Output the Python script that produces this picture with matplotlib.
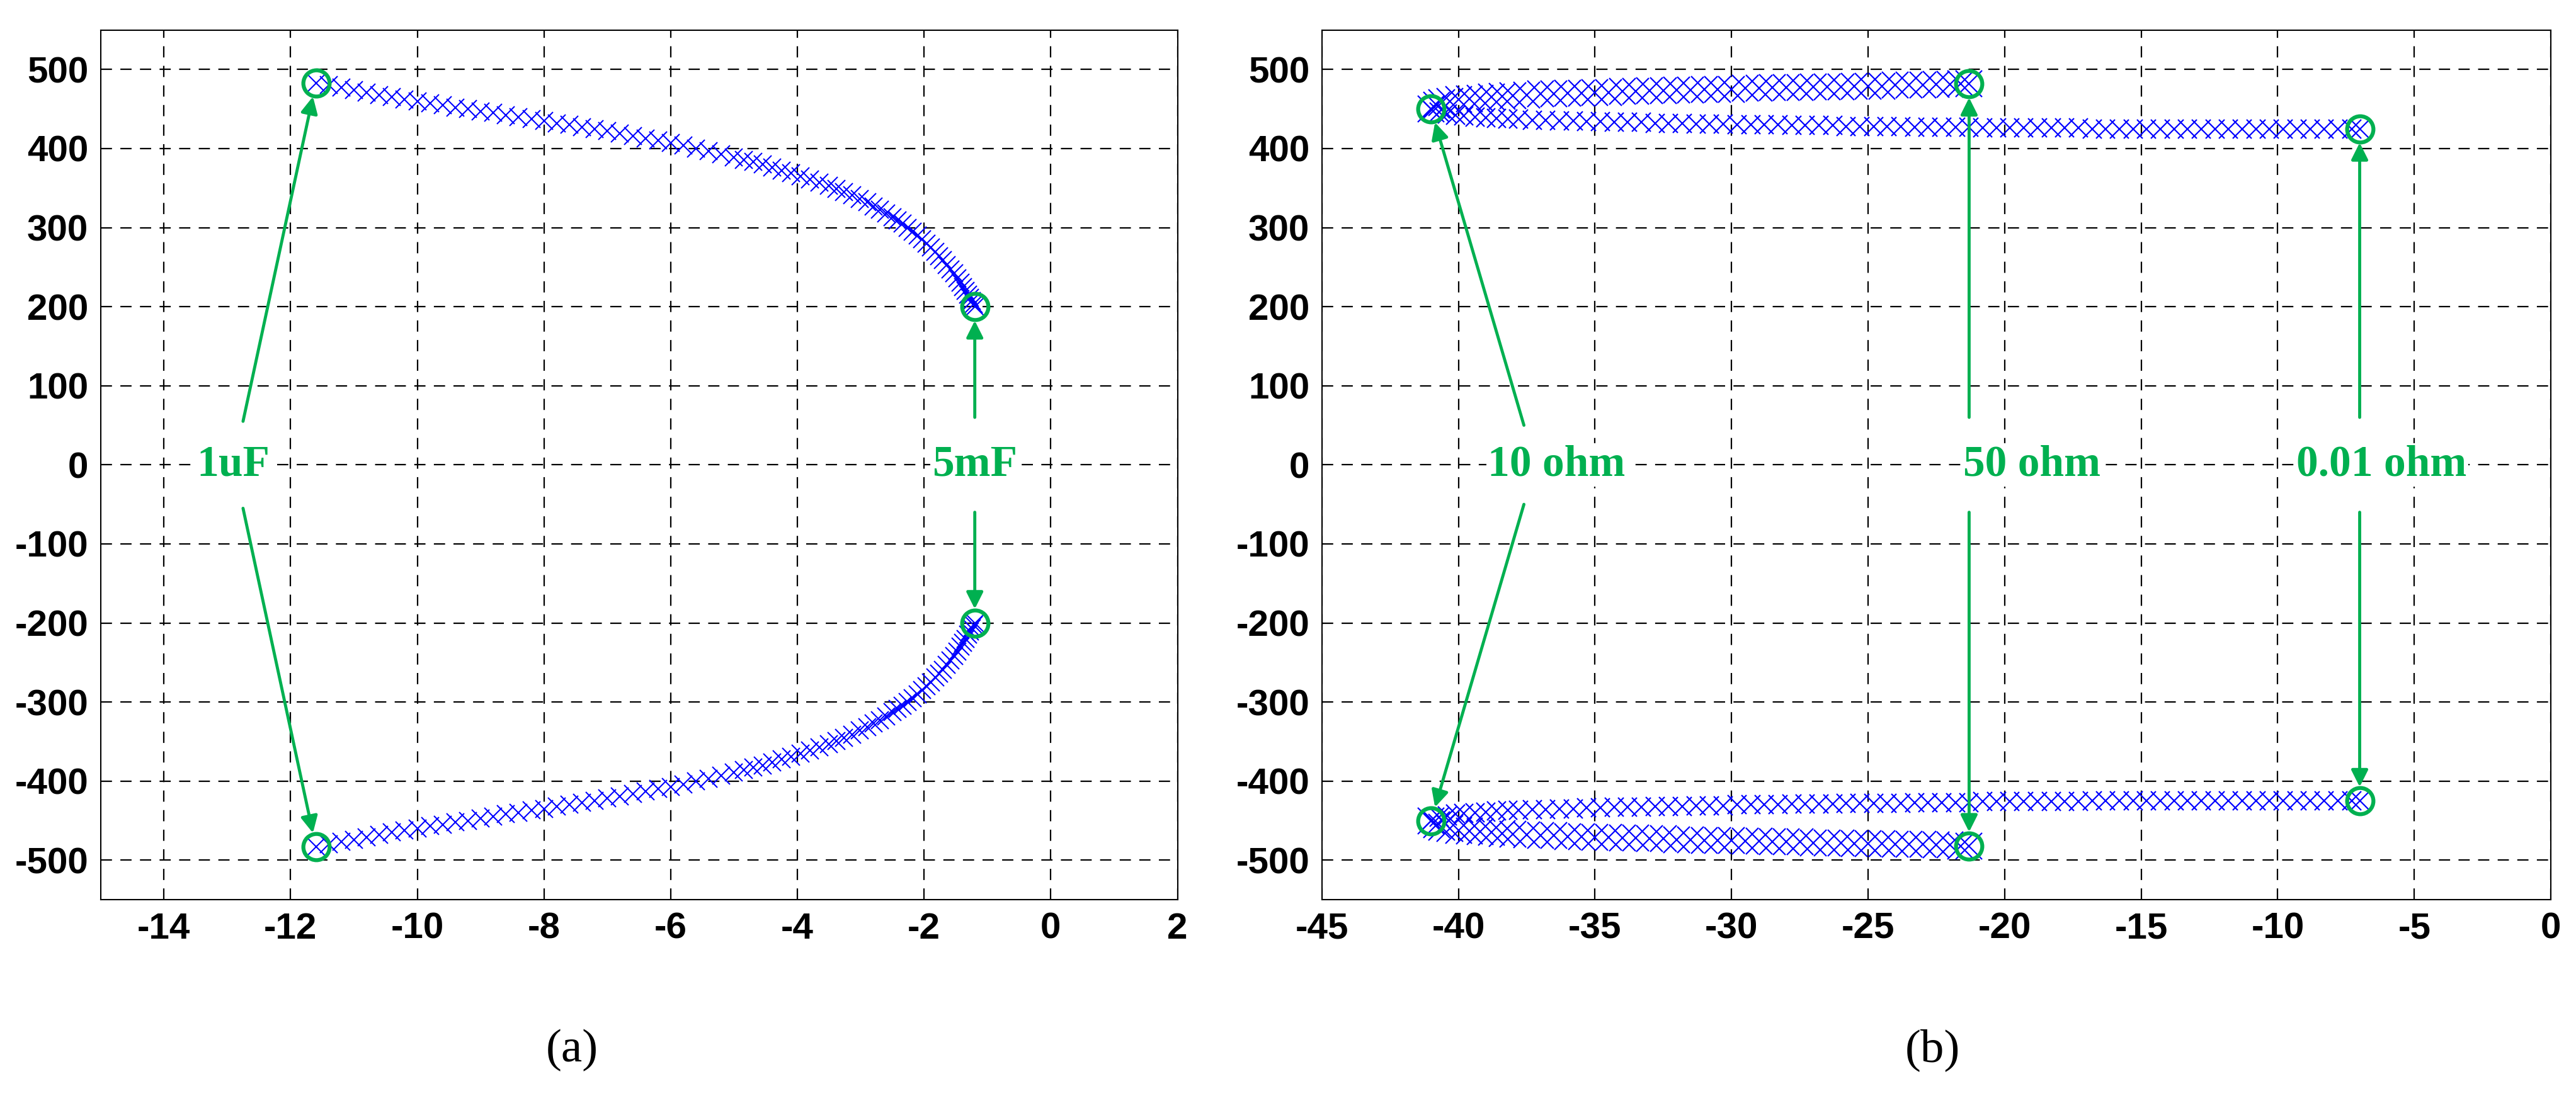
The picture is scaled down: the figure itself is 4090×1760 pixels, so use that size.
import matplotlib.pyplot as plt

# ---------------------------------------------------------------------------
# Data
# ---------------------------------------------------------------------------
# (a) capacitance sweep, upper branch and lower branch
A_UP_X = [-11.6, -11.4, -11.2, -11.0, -10.8, -10.6, -10.4, -10.2, -10.0, -9.8,
          -9.6, -9.4, -9.2, -9.0, -8.8, -8.6, -8.4, -8.2, -8.0, -7.8, -7.6,
          -7.4, -7.2, -7.0, -6.8, -6.6, -6.4, -6.2, -6.0, -5.8, -5.6, -5.4,
          -5.2, -5.0, -4.85, -4.7, -4.55, -4.4, -4.25, -4.1, -3.95, -3.8,
          -3.65, -3.5, -3.38, -3.26, -3.14, -3.02, -2.9, -2.8, -2.7, -2.6,
          -2.5, -2.42, -2.34, -2.26, -2.18, -2.1, -2.03, -1.96, -1.89, -1.82,
          -1.76, -1.7, -1.64, -1.58, -1.53, -1.48, -1.43, -1.39, -1.35, -1.31,
          -1.28, -1.25, -1.22, -1.2]
A_UP_Y = [483, 480, 477, 474, 471, 468, 465, 462, 460, 457,
          455, 452, 450, 447, 445, 442, 440, 437, 435, 432, 430,
          427, 425, 422, 419, 416, 413, 410, 407, 404, 400, 397,
          393, 389, 386, 383, 380, 376, 372, 369, 365, 361,
          357, 353, 349, 345, 341, 336, 332, 327, 323, 318,
          313, 309, 305, 300, 295, 290, 285, 280, 275, 269,
          264, 259, 253, 247, 242, 236, 230, 225, 220, 215,
          211, 207, 203, 200]
A_LO_X = [-11.6, -11.4, -11.2, -11.0, -10.8, -10.6, -10.4, -10.2, -10.0, -9.8,
          -9.6, -9.4, -9.2, -9.0, -8.8, -8.6, -8.4, -8.2, -8.0, -7.8, -7.6,
          -7.4, -7.2, -7.0, -6.8, -6.6, -6.4, -6.2, -6.0, -5.8, -5.6, -5.4,
          -5.2, -5.0, -4.85, -4.7, -4.55, -4.4, -4.25, -4.1, -3.95, -3.8,
          -3.65, -3.5, -3.38, -3.26, -3.14, -3.02, -2.9, -2.8, -2.7, -2.6,
          -2.5, -2.42, -2.34, -2.26, -2.18, -2.1, -2.03, -1.96, -1.89, -1.82,
          -1.76, -1.7, -1.64, -1.58, -1.53, -1.48, -1.43, -1.39, -1.35, -1.31,
          -1.28, -1.25, -1.22, -1.2]
A_LO_Y = [-483, -480, -477, -474, -471, -468, -465, -462, -460, -457,
          -455, -452, -450, -447, -445, -442, -440, -437, -435, -432, -430,
          -427, -425, -422, -419, -416, -413, -410, -407, -404, -400, -397,
          -393, -389, -386, -383, -380, -376, -372, -369, -365, -361,
          -357, -353, -349, -345, -341, -336, -332, -327, -323, -318,
          -313, -309, -305, -300, -295, -290, -285, -280, -275, -269,
          -264, -259, -253, -247, -242, -236, -230, -225, -220, -215,
          -211, -207, -203, -200]

# (b) resistance sweep: dense branch (10 -> 50 ohm) and sparse branch (10 -> 0.01 ohm)
B_THICK_X = [-41.0, -40.8, -40.6, -40.3, -40.0, -39.6, -39.2, -38.8, -38.4,
             -38.0, -37.5, -37.0, -36.5, -36.0, -35.5, -35.0, -34.5, -34.0,
             -33.5, -33.0, -32.5, -32.0, -31.5, -31.0, -30.5, -30.0, -29.5,
             -29.0, -28.5, -28.0, -27.5, -27.0, -26.5, -26.0, -25.5, -25.0,
             -24.5, -24.0, -23.5, -23.0, -22.5, -22.0, -21.6, -21.3]
B_THICK_Y = [450, 455, 458, 460, 462, 463, 464, 465, 466,
             467, 468, 469, 469, 470, 470, 471, 471, 472,
             472, 473, 473, 474, 474, 475, 475, 475, 476,
             476, 477, 477, 477, 478, 478, 478, 479, 479,
             479, 480, 480, 480, 481, 481, 482, 482]
B_THIN_X = [-41.0, -40.7, -40.4, -40.1, -39.8, -39.4, -39.0, -38.6, -38.2,
            -37.8, -37.3, -36.8, -36.3, -35.8, -35.3, -34.8, -34.3, -33.8,
            -33.3, -32.8, -32.3, -31.8, -31.3, -30.8, -30.3, -29.8, -29.3,
            -28.8, -28.3, -27.8, -27.3, -26.8, -26.3, -25.8, -25.3, -24.8,
            -24.3, -23.8, -23.3, -22.8, -22.3, -21.8, -21.3, -20.8, -20.3,
            -19.8, -19.3, -18.8, -18.3, -17.8, -17.3, -16.8, -16.3, -15.8,
            -15.3, -14.8, -14.3, -13.8, -13.3, -12.8, -12.3, -11.8, -11.3,
            -10.8, -10.3, -9.8, -9.3, -8.8, -8.3, -7.8, -7.3, -7.0]
B_THIN_Y = [450, 446, 444, 442, 441, 440, 439, 438, 437,
            437, 436, 436, 435, 435, 434, 434, 433, 433,
            433, 432, 432, 432, 431, 431, 431, 430, 430,
            430, 430, 429, 429, 429, 429, 428, 428, 428,
            428, 428, 427, 427, 427, 427, 427, 426, 426,
            426, 426, 426, 426, 426, 426, 425, 425, 425,
            425, 425, 425, 425, 425, 425, 425, 425, 425,
            425, 425, 425, 425, 425, 425, 425, 425, 425]

A_CIRCLES = [(-11.6, 483), (-11.6, -483), (-1.2, 200), (-1.2, -200)]
B_CIRCLES = [(-41.0, 450), (-41.0, -450), (-21.3, 482), (-21.3, -482),
             (-7.0, 425), (-7.0, -425)]

BLUE = "#0000ff"
GREEN = "#00b050"

plt.rcParams["font.family"] = ["Liberation Sans", "DejaVu Sans"]
plt.rcParams["axes.unicode_minus"] = False

fig = plt.figure(figsize=(40.91, 17.60), dpi=100)
ax_a = fig.add_axes([0.039, 0.188, 0.418, 0.785])
ax_b = fig.add_axes([0.513, 0.188, 0.477, 0.785])


def style_axes(ax, xlim, xticks):
    ax.set_xlim(*xlim)
    ax.set_ylim(-550, 550)
    ax.set_xticks(xticks)
    ax.set_yticks(range(-500, 501, 100))
    ax.grid(True, color="black", linestyle=(0, (8, 6)), linewidth=1.6)
    ax.tick_params(labelsize=42, length=0, pad=14)
    for lbl in ax.get_xticklabels() + ax.get_yticklabels():
        lbl.set_fontweight("bold")
    for sp in ax.spines.values():
        sp.set_linewidth(1.5)


def arrow(ax, text_xy, target):
    ax.annotate("", xy=target, xytext=text_xy,
                arrowprops=dict(arrowstyle="-|>", color=GREEN, lw=3.5,
                                mutation_scale=40, shrinkA=0, shrinkB=16))


def label(ax, x, txt):
    ax.text(x, 0, txt, color=GREEN, fontsize=50, fontweight="bold",
            family="Liberation Serif", ha="center", va="center", zorder=5,
            bbox=dict(facecolor="white", edgecolor="none", pad=2))


# (a)
style_axes(ax_a, (-15, 2), range(-14, 3, 2))
for xs, ys in [(A_UP_X, A_UP_Y), (A_LO_X, A_LO_Y)]:
    ax_a.plot(xs, ys, ls="none", marker="x", ms=20, mew=1.5, color=BLUE)
for cx, cy in A_CIRCLES:
    ax_a.plot(cx, cy, ls="none", marker="o", ms=30, mfc="none", mec=GREEN, mew=4.5)
label(ax_a, -12.9, "1uF")
label(ax_a, -1.2, "5mF")
arrow(ax_a, (-12.75, 55), (-11.6, 483))
arrow(ax_a, (-12.75, -55), (-11.6, -483))
arrow(ax_a, (-1.2, 60), (-1.2, 200))
arrow(ax_a, (-1.2, -60), (-1.2, -200))

# (b)
style_axes(ax_b, (-45, 0), range(-45, 1, 5))
for xs, ys, ms in [(B_THICK_X, B_THICK_Y, 30), (B_THIN_X, B_THIN_Y, 22)]:
    ax_b.plot(xs, ys, ls="none", marker="x", ms=ms, mew=1.6, color=BLUE)
    ax_b.plot(xs, [-v for v in ys], ls="none", marker="x", ms=ms, mew=1.6, color=BLUE)
for cx, cy in B_CIRCLES:
    ax_b.plot(cx, cy, ls="none", marker="o", ms=30, mfc="none", mec=GREEN, mew=4.5)
label(ax_b, -36.4, "10 ohm")
label(ax_b, -19.0, "50 ohm")
label(ax_b, -6.2, "0.01 ohm")
arrow(ax_b, (-37.6, 50), (-41.0, 450))
arrow(ax_b, (-37.6, -50), (-41.0, -450))
arrow(ax_b, (-21.3, 60), (-21.3, 482))
arrow(ax_b, (-21.3, -60), (-21.3, -482))
arrow(ax_b, (-7.0, 60), (-7.0, 425))
arrow(ax_b, (-7.0, -60), (-7.0, -425))

fig.text(0.222, 0.052, "(a)", fontsize=54, family="Liberation Serif",
         ha="center", va="center")
fig.text(0.750, 0.052, "(b)", fontsize=54, family="Liberation Serif",
         ha="center", va="center")

fig.savefig("out.png", dpi=100)
